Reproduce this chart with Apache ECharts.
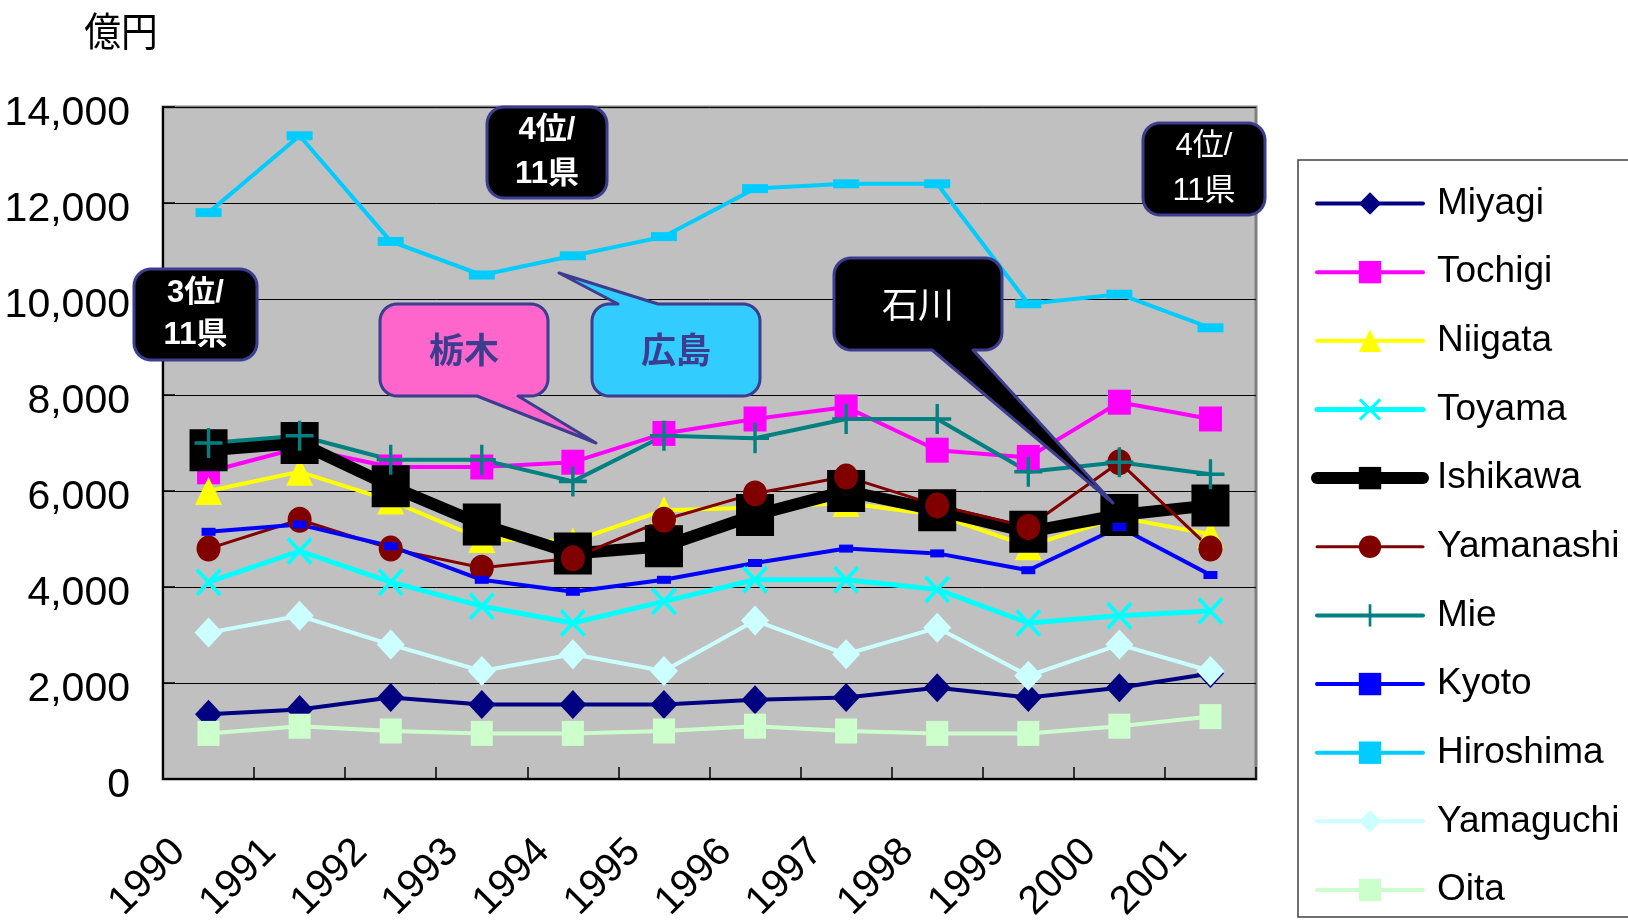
<!DOCTYPE html>
<html>
<head>
<meta charset="utf-8">
<script src="https://cdn.jsdelivr.net/npm/echarts@6/dist/echarts.min.js"></script>
<style>
html, body { margin: 0; padding: 0; background: #ffffff; }
#chart { width: 1628px; height: 923px; }
</style>
</head>
<body>
<div id="chart"></div>
<script>
// 年次
const years = ['1990', '1991', '1992', '1993', '1994', '1995', '1996', '1997', '1998', '1999', '2000', '2001'];

// 県別の金額（億円）
const miyagi    = [1350, 1450, 1700, 1550, 1550, 1550, 1650, 1700, 1900, 1700, 1900, 2200];
const tochigi   = [6400, 6900, 6500, 6500, 6600, 7200, 7500, 7750, 6850, 6700, 7850, 7500];
const niigata   = [6000, 6400, 5800, 5000, 4950, 5600, 5650, 5750, 5500, 4850, 5450, 5100];
const toyama    = [4100, 4750, 4100, 3600, 3250, 3700, 4150, 4150, 3950, 3250, 3400, 3500];
const ishikawa  = [6850, 7000, 6100, 5300, 4700, 4850, 5500, 6000, 5600, 5150, 5500, 5700];
const yamanashi = [4800, 5400, 4800, 4400, 4600, 5400, 5950, 6300, 5700, 5250, 6600, 4800];
const mie       = [7000, 7150, 6650, 6650, 6200, 7150, 7100, 7500, 7500, 6400, 6600, 6350];
const kyoto     = [5150, 5300, 4850, 4150, 3900, 4150, 4500, 4800, 4700, 4350, 5250, 4250];
const hiroshima = [11800, 13400, 11200, 10500, 10900, 11300, 12300, 12400, 12400, 9900, 10100, 9400];
const yamaguchi = [3050, 3400, 2800, 2250, 2600, 2250, 3300, 2600, 3150, 2150, 2800, 2250];
const oita      = [950, 1100, 1000, 950, 950, 1000, 1100, 1000, 950, 950, 1100, 1300];

// 軸
const yMin = 0, yMax = 14000, yStep = 2000;

const LATIN = "'Liberation Sans', Arial, sans-serif";
const CJK = "'Noto Sans CJK JP', 'Noto Sans CJK SC', sans-serif";
const MIX = "'Liberation Sans', 'Noto Sans CJK JP', sans-serif";

const X_MARK = 'path://M0,2 L2,0 L10,8 L18,0 L20,2 L12,10 L20,18 L18,20 L10,12 L2,20 L0,18 L8,10 Z';
const PLUS_MARK = 'path://M8.8,0 H11.2 V8.8 H20 V11.2 H11.2 V20 H8.8 V11.2 H0 V8.8 H8.8 Z';
const BAR_SHORT = 'path://M0,0 H14 V8 H0 Z';
const BAR_LONG = 'path://M0,0 H26 V9 H0 Z';

function line(name, data, color, width, symbol, size) {
  return {
    name, type: 'line', data,
    symbol, symbolSize: size, showSymbol: true, showAllSymbol: true,
    lineStyle: { color, width, cap: 'round', join: 'round' },
    itemStyle: { color, borderWidth: 0 },
    emphasis: { disabled: true }
  };
}

const series = [
  line('Miyagi',    miyagi,    '#000080', 4,  'diamond',  [27, 29]),
  line('Tochigi',   tochigi,   '#ff00ff', 4,  'rect',     [23, 25]),
  line('Niigata',   niigata,   '#ffff00', 4,  'triangle', [27, 28]),
  line('Toyama',    toyama,    '#00ffff', 5,  X_MARK,     [26, 28]),
  line('Ishikawa',  ishikawa,  '#000000', 12, 'rect',     [38, 42]),
  line('Yamanashi', yamanashi, '#800000', 3,  'circle',   [24, 26]),
  line('Mie',       mie,       '#008080', 4,  PLUS_MARK,  [28, 30]),
  line('Kyoto',     kyoto,     '#0000ff', 4,  BAR_SHORT,  [14, 8]),
  line('Hiroshima', hiroshima, '#00ccff', 4,  BAR_LONG,   [26, 9]),
  line('Yamaguchi', yamaguchi, '#ccffff', 4,  'diamond',  [28, 30]),
  line('Oita',      oita,      '#ccffcc', 4,  'rect',     [22, 25])
];

// 吹き出しの輪郭（角丸の箱＋しっぽ）
function calloutPoints(x, y, w, h, r, tail) {
  const pts = [];
  const arc = (cx, cy, a0, a1) => {
    for (let i = 0; i <= 8; i++) {
      const a = (a0 + (a1 - a0) * i / 8) * Math.PI / 180;
      pts.push([cx + r * Math.cos(a), cy + r * Math.sin(a)]);
    }
  };
  arc(x + r, y + r, 180, 270);
  if (tail && tail.edge === 'top') pts.push([tail.a, y], tail.tip, [tail.b, y]);
  arc(x + w - r, y + r, 270, 360);
  arc(x + w - r, y + h - r, 0, 90);
  if (tail && tail.edge === 'bottom') pts.push([tail.b, y + h], tail.tip, [tail.a, y + h]);
  arc(x + r, y + h - r, 90, 180);
  return pts;
}

const BORDER = '#3d3d8f';
function callout(box, tail, fill, text, textColor, font, lineHeight) {
  return [
    {
      type: 'polygon', z: 50,
      shape: { points: calloutPoints(box[0], box[1], box[2], box[3], 17, tail) },
      style: { fill, stroke: BORDER, lineWidth: 3, lineJoin: 'round' }
    },
    {
      type: 'text', z: 51,
      x: box[0] + box[2] / 2, y: box[1] + box[3] / 2,
      style: { text, fill: textColor, font, align: 'center', verticalAlign: 'middle', lineHeight }
    }
  ];
}

const graphics = [].concat(
  callout([134, 269, 123, 91], null, '#000000', '3位/\n11県', '#ffffff', 'bold 31px ' + MIX, 42),
  callout([487, 107, 120, 91], null, '#000000', '4位/\n11県', '#ffffff', 'bold 31px ' + MIX, 44),
  callout([1143, 123, 122, 92], null, '#000000', '4位/\n11県', '#ffffff', '31px ' + MIX, 45),
  callout([380, 304, 168, 92], { edge: 'bottom', a: 477, b: 518, tip: [596, 443] },
          '#ff66cc', '栃木', '#3d3d8f', 'bold 35px ' + CJK),
  callout([592, 304, 168, 92], { edge: 'top', a: 618, b: 658, tip: [559, 273] },
          '#33ccff', '広島', '#3d3d8f', 'bold 35px ' + CJK),
  callout([834, 258, 168, 92], { edge: 'bottom', a: 932, b: 973, tip: [1113, 503] },
          '#000000', '石川', '#ffffff', '36px ' + CJK),
  [
    {
      type: 'text', x: 121, y: 31, scaleX: 0.92,
      style: { text: '億円', fill: '#000', font: '40px ' + CJK, align: 'center', verticalAlign: 'middle' }
    },
    {
      type: 'rect', z: 1,
      shape: { x: 1298, y: 160, width: 345, height: 757 },
      style: { fill: '#ffffff', stroke: '#404040', lineWidth: 1.5 }
    }
  ]
);

const chart = echarts.init(document.getElementById('chart'), null, { renderer: 'canvas' });
chart.setOption({
  animation: false,
  backgroundColor: '#ffffff',
  grid: {
    left: 163, top: 107, width: 1093, height: 672,
    show: true, backgroundColor: '#c0c0c0', borderColor: '#808080', borderWidth: 3,
    containLabel: false, outerBoundsMode: 'none'
  },
  xAxis: {
    type: 'category', data: years, boundaryGap: true,
    axisLine: { lineStyle: { color: '#000', width: 2 } },
    axisTick: { show: true, inside: true, length: 12, lineStyle: { color: '#000', width: 1.5 } },
    axisLabel: {
      rotate: 45, margin: 37, padding: [0, 42, 0, 0],
      fontSize: 40, fontFamily: LATIN, color: '#000'
    },
    splitLine: { show: false }
  },
  yAxis: {
    type: 'value', min: yMin, max: yMax, interval: yStep,
    axisLine: { show: true, lineStyle: { color: '#000', width: 2 } },
    axisTick: { show: true, inside: true, length: 12, lineStyle: { color: '#000', width: 1.5 } },
    axisLabel: {
      margin: 33, color: '#000',
      formatter: v => '{v|' + v.toLocaleString('en-US') + '}',
      rich: { v: { fontSize: 41, fontFamily: LATIN, color: '#000', padding: [14, 0, 0, 0] } }
    },
    splitLine: { lineStyle: { color: '#000', width: 1 } }
  },
  legend: {
    orient: 'vertical', left: 1311, top: 178.5, height: 740, padding: 0,
    itemWidth: 106, itemHeight: 28, itemGap: 18.65,
    selectedMode: false,
    lineStyle: { width: 'inherit', cap: 'round' },
    textStyle: { fontSize: 37, fontFamily: LATIN, color: '#000', padding: [0, 0, 0, 9], lineHeight: 50 },
    data: series.map(s => s.name)
  },
  graphic: graphics,
  series
});
</script>
</body>
</html>
